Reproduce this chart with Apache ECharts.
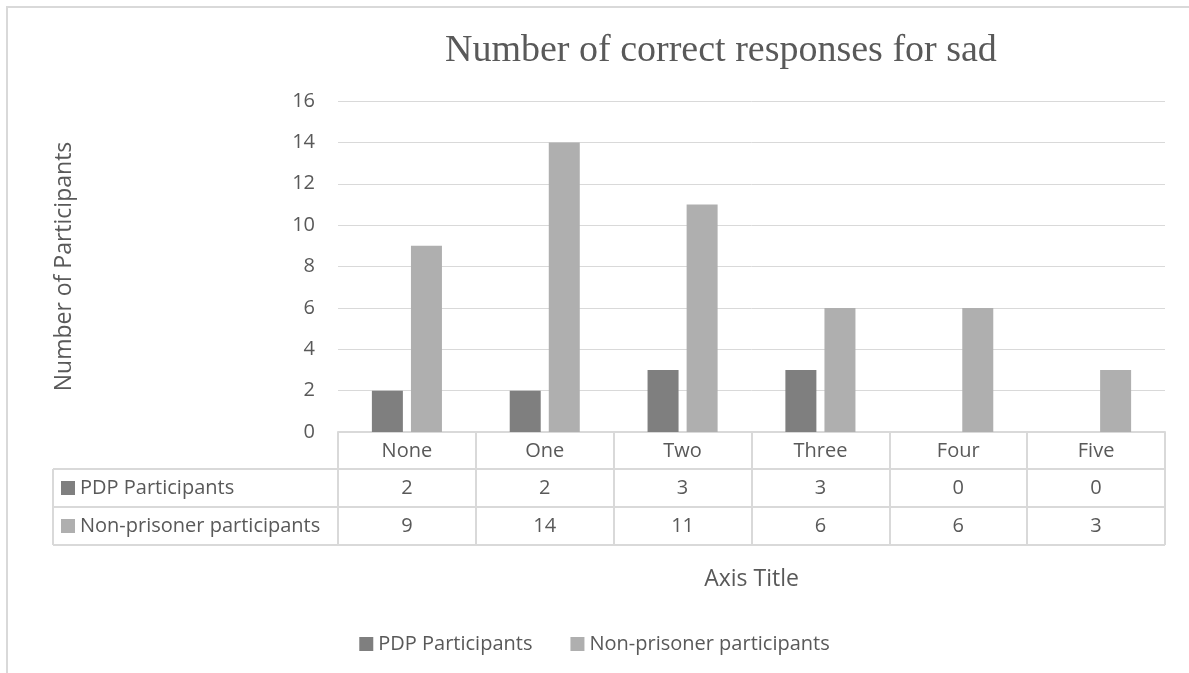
<!DOCTYPE html>
<html>
<head>
<meta charset="utf-8">
<script src="https://cdn.jsdelivr.net/npm/echarts@6/dist/echarts.min.js"></script>
<style>
  html, body { margin: 0; padding: 0; background: #fff; }
  #chart { width: 1189px; height: 673px; }
</style>
</head>
<body>
<div id="chart"></div>
<script>
// Categories and counts per group
const categories = ['None', 'One', 'Two', 'Three', 'Four', 'Five'];
const pdpName = 'PDP Participants';
const nonName = 'Non-prisoner participants';
const pdpValues = [2, 2, 3, 3, 0, 0];
const nonValues = [9, 14, 11, 6, 6, 3];
const yTicks = [0, 2, 4, 6, 8, 10, 12, 14, 16];

const TEXT = '#595959';
const LINE = '#d9d9d9';
const PDP_COLOR = '#7f7f7f';
const NON_COLOR = '#afafaf';
const FONT = '"Open Sans", sans-serif';
const FS = 20;

const gridLeft = 338, gridRight = 24, gridTop = 101, gridBottom = 241;
const tableTop = 432, row1 = 469, row2 = 507, tableBottom = 545, tableLeft = 53;

const chart = echarts.init(document.getElementById('chart'), null, { renderer: 'canvas' });

const option = {
  backgroundColor: '#fff',
  animation: false,
  title: {
    text: 'Number of correct responses for sad',
    left: 440,
    top: 27,
    textStyle: { fontFamily: '"Liberation Serif", "Times New Roman", serif', fontSize: 38, fontWeight: 'normal', color: TEXT }
  },
  legend: {
    top: 629,
    left: 'center',
    itemWidth: 14,
    itemHeight: 14,
    itemGap: 38,
    icon: 'rect',
    textStyle: { fontFamily: FONT, fontSize: FS, color: TEXT },
    data: [pdpName, nonName]
  },
  grid: { left: gridLeft, right: gridRight, top: gridTop, bottom: gridBottom, containLabel: false },
  xAxis: {
    type: 'category',
    data: categories,
    boundaryGap: true,
    axisLine: { show: true, lineStyle: { color: LINE, width: 2 } },
    axisTick: { show: true, length: tableBottom - tableTop, lineStyle: { color: LINE, width: 2 } },
    axisLabel: { margin: 19, verticalAlign: 'middle', fontFamily: FONT, fontSize: FS, color: TEXT },
    name: 'Axis Title',
    nameLocation: 'middle',
    nameGap: 136,
    nameTextStyle: { fontFamily: FONT, fontSize: 23, color: TEXT }
  },
  yAxis: {
    type: 'value',
    min: 0,
    max: 16,
    interval: 2,
    axisLine: { show: false },
    axisTick: { show: false },
    splitLine: { lineStyle: { color: LINE, width: 1 } },
    axisLabel: {
      margin: 23,
      fontFamily: FONT, fontSize: FS, color: TEXT,
      formatter: v => (yTicks.indexOf(v) >= 0 ? String(v) : '')
    },
    name: 'Number of Participants',
    nameLocation: 'middle',
    nameRotate: 90,
    nameGap: 262,
    nameTextStyle: { fontFamily: FONT, fontSize: 23, color: TEXT }
  },
  series: [
    { name: pdpName, type: 'bar', data: pdpValues, barWidth: 31, barGap: '26%', itemStyle: { color: PDP_COLOR } },
    { name: nonName, type: 'bar', data: nonValues, barWidth: 31, itemStyle: { color: NON_COLOR } }
  ]
};

chart.setOption(option);

// Data table beneath the axis: row lines, series keys and values per column
function buildTable() {
  const step = chart.convertToPixel({ xAxisIndex: 0 }, 1) - chart.convertToPixel({ xAxisIndex: 0 }, 0);
  const xEnd = chart.convertToPixel({ xAxisIndex: 0 }, categories.length - 1) + step / 2;
  const els = [];
  const lineStyle = { stroke: LINE, lineWidth: 2 };
  // chart frame
  els.push({ type: 'rect', shape: { x: 7, y: 7, width: 1300, height: 800 }, style: { fill: null, stroke: LINE, lineWidth: 2 }, silent: true });
  [row1, row2, tableBottom].forEach(y => {
    els.push({ type: 'line', shape: { x1: tableLeft, y1: y, x2: xEnd, y2: y }, style: lineStyle, silent: true });
  });
  els.push({ type: 'line', shape: { x1: tableLeft, y1: row1, x2: tableLeft, y2: tableBottom }, style: lineStyle, silent: true });

  const rows = [
    { name: pdpName, color: PDP_COLOR, values: pdpValues, top: row1, bottom: row2 },
    { name: nonName, color: NON_COLOR, values: nonValues, top: row2, bottom: tableBottom }
  ];
  rows.forEach(r => {
    const cy = (r.top + r.bottom) / 2;
    els.push({ type: 'rect', shape: { x: 61, y: cy - 7, width: 14, height: 14 }, style: { fill: r.color }, silent: true });
    els.push({ type: 'text', x: 80, y: cy, style: { text: r.name, fill: TEXT, font: FS + 'px ' + FONT, textVerticalAlign: 'middle', textAlign: 'left' }, silent: true });
    r.values.forEach((v, i) => {
      const cx = chart.convertToPixel({ xAxisIndex: 0 }, i);
      els.push({ type: 'text', x: cx, y: cy, style: { text: String(v), fill: TEXT, font: FS + 'px ' + FONT, textVerticalAlign: 'middle', textAlign: 'center' }, silent: true });
    });
  });
  chart.setOption({ graphic: els });
}
buildTable();
</script>
</body>
</html>
